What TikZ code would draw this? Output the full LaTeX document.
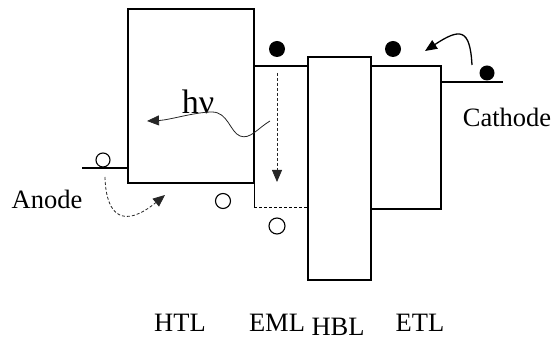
\documentclass[tikz,border=0pt]{standalone}
\usepackage{fontspec}
\setmainfont{Liberation Serif}
\usepackage{tikz}
\usetikzlibrary{arrows.meta}
\newcommand{\corA}{black}
\newcommand{\corB}{black!85}

\tikzset{
  nivel/.style={draw=\corA, line width=1.4pt},
  eletron/.style={circle, fill=\corA, inner sep=0pt, minimum size=16pt},
  lacuna/.style={circle, draw=\corA, line width=1.1pt, inner sep=0pt, minimum size=14pt},
  rotulo/.style={font=\fontsize{26.5}{29}\selectfont, inner sep=0pt},
  seta/.style={-{Triangle[length=12pt,width=10pt]}}
}

\begin{document}
\begin{tikzpicture}[x=1pt, y=-1pt]
        \useasboundingbox (0,0) rectangle (557,344);

          % camada 0 HTL
        \draw[nivel] (128,9) -- (254,9) -- (254,183) -- (128,183) -- cycle;

          % camada 1 EML
        \draw[nivel] (254,66) -- (308,66);
        \draw[\corA, line width=1pt] (254,183) -- (254,208);
        \draw[\corA, line width=1pt, densely dashed] (254,208) -- (308,208);

          % camada 2 HBL
        \draw[nivel] (308,57) rectangle (371,280);

          % camada 3 ETL
        \draw[nivel] (371,66) -- (441,66) -- (441,209) -- (371,209);

          % eletrodos
        \draw[nivel] (82,168) -- (128,168);
        \draw[nivel] (441,82) -- (503,82);

          % eletrons e lacunas
        \node[eletron] (eEML) at (277,49) {};
        \node[eletron] (eETL) at (393,49) {};
        \node[eletron, minimum size=15pt] (eCat) at (487,73) {};
        \node[lacuna] (hAn) at (103,160) {};
        \node[lacuna, minimum size=15pt] (hHTL) at (223,201) {};
        \node[lacuna, minimum size=16pt] (hEML) at (277,226) {};

          % textos
        \node[rotulo] (anodo) at (47,199) {Anode};
        \node[rotulo] (catodo) at (507,117) {Cathode};
        \node[rotulo, font=\fontsize{34}{37}\selectfont] (hnu) at (198,102) {hν};
        \node[rotulo] (tHTL) at (180,323) {HTL};
        \node[rotulo] (tEML) at (277,323) {EML};
        \node[rotulo] (tHBL) at (338,327) {HBL};
        \node[rotulo] (tETL) at (420,323) {ETL};

          % pontos livres das setas
        \coordinate (fimCat) at (425,51);
        \coordinate (fimAn) at (165,195);
        \coordinate (fimEML) at (277,182);
        \coordinate (iniLuz) at (270,121);
        \coordinate (fimLuz) at (147,121);

          % setas
        \draw[seta, \corA, line width=1.3pt] ([xshift=-15pt,yshift=8pt]eCat.center) .. controls (470,28) and (460,28) .. (fimCat);
        \draw[seta, \corB, line width=0.8pt, densely dashed] ([xshift=2pt,yshift=-17pt]hAn.center) .. controls (106,218) and (125,228) .. (fimAn);
        \draw[seta, \corB, line width=0.8pt, densely dashed] ([yshift=-24pt]eEML.center) -- (fimEML);
        \draw[seta, \corB, line width=0.8pt] (iniLuz) .. controls (258,128) and (250,140) .. (240,136) .. controls (230,132) and (228,112) .. (212,112) .. controls (195,112) and (170,120) .. (fimLuz);

    \end{tikzpicture}
\end{document}
